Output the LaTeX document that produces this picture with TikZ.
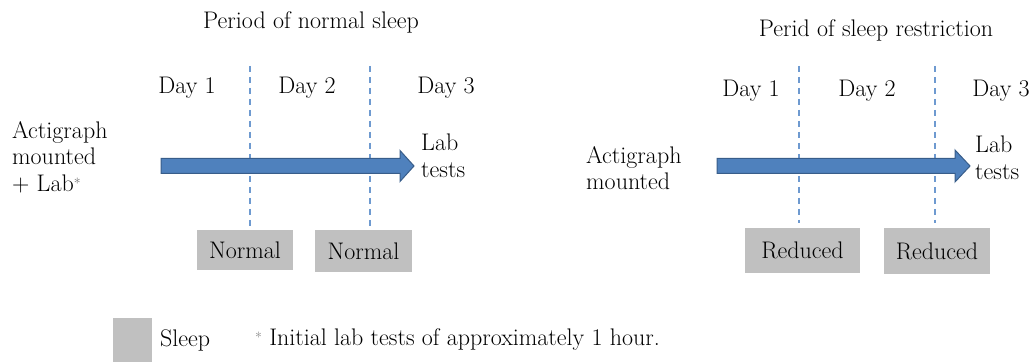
\documentclass[tikz,border=0pt]{standalone}
\usepackage{fontspec}
\usetikzlibrary{calc}
\begin{document}
\begin{tikzpicture}[x=1pt,y=-1pt,
  txt/.style={inner sep=0pt, font=\rmfamily\fontsize{24}{26.5}\selectfont},
  sleepbox/.style={fill=boxgray, inner sep=0pt, font=\rmfamily\fontsize{24}{26.5}\selectfont},
  dayline/.style={draw=dashblue, line width=1.3pt, dash pattern=on 6pt off 5pt},
  blockarrow/.style={fill=arrowblue, draw=arrowedge, line width=1pt}]
\definecolor{boxgray}{HTML}{C0C0C0}
\definecolor{arrowblue}{HTML}{4F81BD}
\definecolor{arrowedge}{HTML}{385D8A}
\definecolor{dashblue}{HTML}{6E9AD0}
\path[use as bounding box] (0,0) rectangle (1032,363);

% ---------- left panel ----------
\node[txt] (t1) at (311,22) {Period of normal sleep};
\node[txt] (l1) at (187,88) {Day 1};
\node[txt] (l2) at (307,88) {Day 2};
\node[txt] (l3) at (446,88) {Day 3};
\coordinate (a1t) at (250,66); \coordinate (a1b) at (250,226);
\coordinate (a2t) at (370,66); \coordinate (a2b) at (370,226);
\draw[dayline] (a1t) -- (a1b);
\draw[dayline] (a2t) -- (a2b);
\node[txt, align=left, anchor=west] (act1) at (12,157) {Actigraph\\mounted\\+ Lab\raisebox{3pt}{\fontsize{14}{14}\selectfont\color{gray!80!black}*}};
\node[txt, align=left, anchor=west] (lab1) at (421,156) {Lab\\tests};
\coordinate (ar1s) at (161,166);
\coordinate (ar1e) at (414,166);
\draw[blockarrow] ($(ar1s)+(0,-7.5)$) -- ($(ar1e)+(-14,-7.5)$) -- ($(ar1e)+(-14,-15.5)$) -- (ar1e)
   -- ($(ar1e)+(-14,15.5)$) -- ($(ar1e)+(-14,7.5)$) -- ($(ar1s)+(0,7.5)$) -- cycle;
\node[sleepbox, minimum width=96pt, minimum height=40pt] (n1) at (245,250) {Normal};
\node[sleepbox, minimum width=97pt, minimum height=41pt] (n2) at (363.5,251) {Normal};

% ---------- right panel ----------
\node[txt] (t2) at (876,30) {Perid of sleep restriction};
\node[txt] (r1) at (751,91) {Day 1};
\node[txt] (r2) at (867,91) {Day 2};
\node[txt] (r3) at (1001,91) {Day 3};
\coordinate (b1t) at (799,66); \coordinate (b1b) at (799,223);
\coordinate (b2t) at (935,66); \coordinate (b2b) at (935,223);
\draw[dayline] (b1t) -- (b1b);
\draw[dayline] (b2t) -- (b2b);
\node[txt, align=left, anchor=west] (act2) at (586,168) {Actigraph\\mounted};
\node[txt, align=left, anchor=west] (lab2) at (975,158) {Lab\\tests};
\coordinate (ar2s) at (717,166);
\coordinate (ar2e) at (970,166);
\draw[blockarrow] ($(ar2s)+(0,-7.5)$) -- ($(ar2e)+(-15,-7.5)$) -- ($(ar2e)+(-15,-16)$) -- (ar2e)
   -- ($(ar2e)+(-15,16)$) -- ($(ar2e)+(-15,7.5)$) -- ($(ar2s)+(0,7.5)$) -- cycle;
\node[sleepbox, minimum width=115pt, minimum height=45pt] (d1) at (802.5,250.5) {Reduced};
\node[sleepbox, minimum width=106pt, minimum height=46pt] (d2) at (937,251) {Reduced};

% ---------- legend ----------
\node[fill=boxgray, minimum width=39pt, minimum height=44pt, inner sep=0pt] (key) at (132.5,340) {};
\node[txt, anchor=west] (keyt) at (160,340) {Sleep};
\node[txt, anchor=west] (note) at (255,340) {\raisebox{3pt}{\fontsize{14}{14}\selectfont\color{gray}*} Initial lab tests of approximately 1 hour.};
\end{tikzpicture}
\end{document}
